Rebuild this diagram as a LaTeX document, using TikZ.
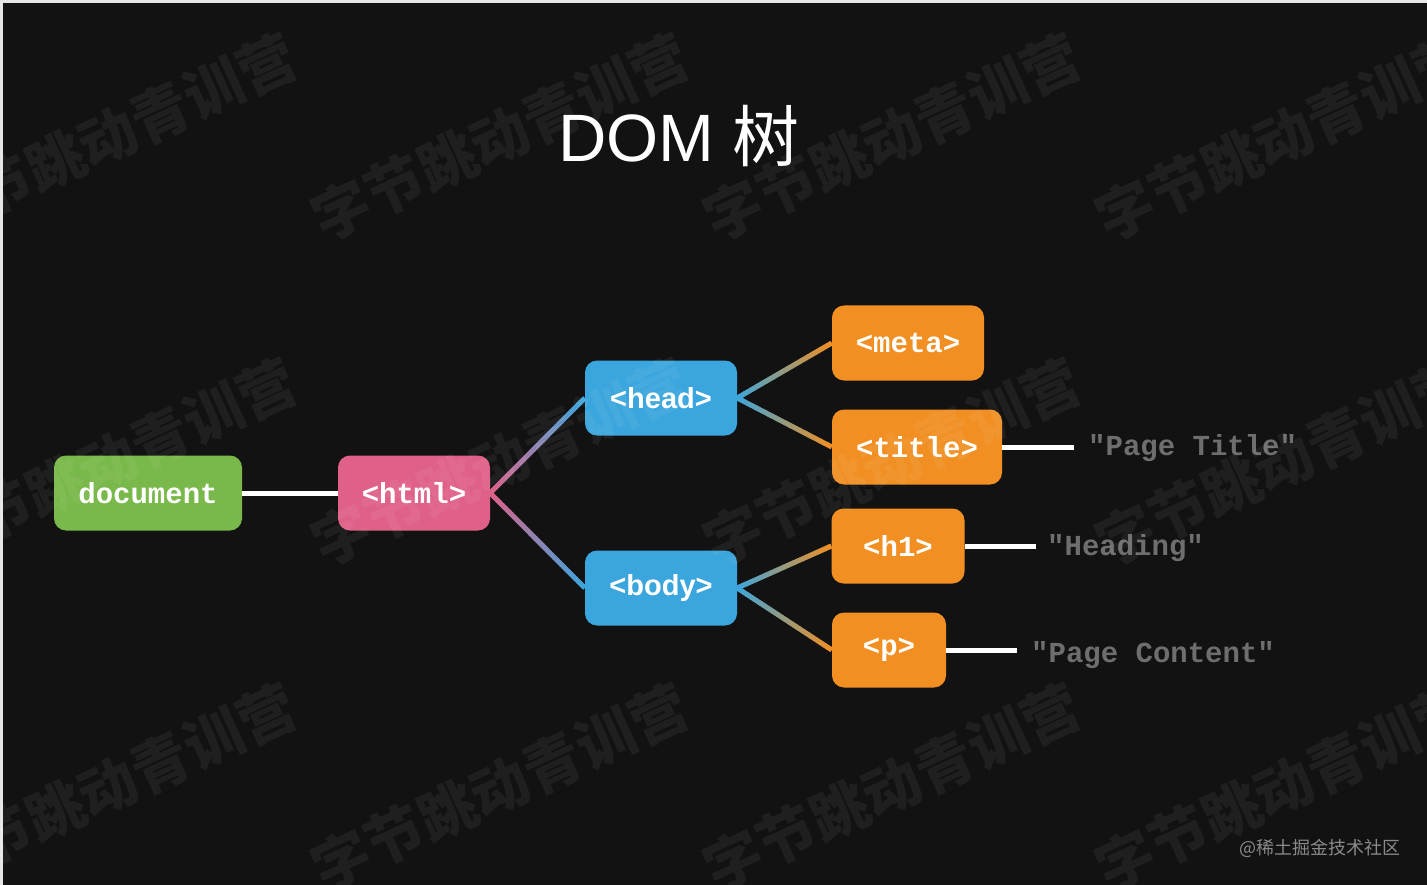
\documentclass[tikz,border=0pt]{standalone}
\usepackage{fontspec}
\setmainfont{Liberation Sans}
\setsansfont{Liberation Sans}
\setmonofont{Liberation Mono}
\newfontfamily\cjk{Noto Sans CJK SC}
\usetikzlibrary{calc}
\definecolor{bg}{HTML}{121212}
\definecolor{frame}{HTML}{E6E6E6}
\definecolor{cgreen}{HTML}{79B84A}
\definecolor{cpink}{HTML}{E06188}
\definecolor{cblue}{HTML}{3BA6DD}
\definecolor{corange}{HTML}{F18F22}
\definecolor{cgrey}{HTML}{6E6E6E}
\definecolor{cfoot}{HTML}{8A8A8A}
\tikzset{
  box/.style={rounded corners=12, minimum height=75, inner sep=0, text=white,
    font=\fontsize{29}{29}\selectfont\ttfamily\bfseries},
  sbox/.style={box, font=\fontsize{29}{29}\selectfont\sffamily\bfseries},
  wline/.style={line width=5, white},
  leaf/.style={anchor=west, inner sep=0, text=cgrey, font=\fontsize{29}{29}\selectfont\ttfamily\bfseries},
  wmark/.style={rotate=24.7, text=white, text opacity=0.055, inner sep=0,
    font=\fontsize{58}{58}\selectfont\cjk\bfseries}
}
\newcommand\gradline[4]{%
  \foreach \gi in {0,...,39}{%
    \pgfmathsetmacro\ga{\gi/40}%
    \pgfmathsetmacro\gb{min(1,(\gi+1.3)/40)}%
    \pgfmathtruncatemacro\gm{100-(\gi+0.5)*2.5}%
    \draw[line width=5, color=#3!\gm!#4] ($(#1)!\ga!(#2)$) -- ($(#1)!\gb!(#2)$);
  }}
\begin{document}
\begin{tikzpicture}[x=1pt,y=-1pt]
\fill[bg] (0,0) rectangle (1427,885);
\useasboundingbox (0,0) rectangle (1427,885);
\fill[frame] (0,0) rectangle (1427,3);
\fill[frame] (0,0) rectangle (3,885);

\node (ttl) at (679,136) {\fontsize{67}{67}\selectfont\color{white}DOM {\cjk 树}};

\node[box, fill=cgreen, minimum width=188] (doc) at (148,493) {document};
\node[box, fill=cpink, minimum width=152] (html) at (414,493) {<html>};
\node[sbox, fill=cblue, minimum width=152] (head) at (661,398) {<head>};
\node[sbox, fill=cblue, minimum width=152] (body) at (661,588) {<body>};
\node[box, fill=corange, minimum width=152] (meta) at (908,343) {<meta>};
\node[box, fill=corange, minimum width=170] (title) at (917,447) {<title>};
\node[box, fill=corange, minimum width=133] (h1) at (898,546) {<h1>};
\node[box, fill=corange, minimum width=114] (p) at (889,650) {<p>};

\draw[wline] (doc.east) -- (html.west);
\gradline{html.east}{head.west}{cpink}{cblue}
\gradline{html.east}{body.west}{cpink}{cblue}
\gradline{head.east}{meta.west}{cblue}{corange}
\gradline{head.east}{title.west}{cblue}{corange}
\gradline{body.east}{h1.west}{cblue}{corange}
\gradline{body.east}{p.west}{cblue}{corange}

\coordinate (e1) at (1074,447);
\coordinate (e2) at (1036,546);
\coordinate (e3) at (1017,650);
\draw[wline] (title.east) -- (e1);
\draw[wline] (h1.east) -- (e2);
\draw[wline] (p.east) -- (e3);
\node[leaf] (t1) at (1088,448) {"Page Title"};
\node[leaf] (t2) at (1047,548) {"Heading"};
\node[leaf] (t3) at (1031,655) {"Page Content"};

\node[anchor=east, inner sep=0, text=cfoot, font=\fontsize{18}{18}\selectfont\cjk] (foot) at (1401,848) {@稀土掘金技术社区};

\foreach \wx in {108,500,892,1284}{
  \foreach \wy in {137,462,787}{
    \node[wmark] at (\wx,\wy) {字节跳动青训营};
  }
}
\end{tikzpicture}
\end{document}
